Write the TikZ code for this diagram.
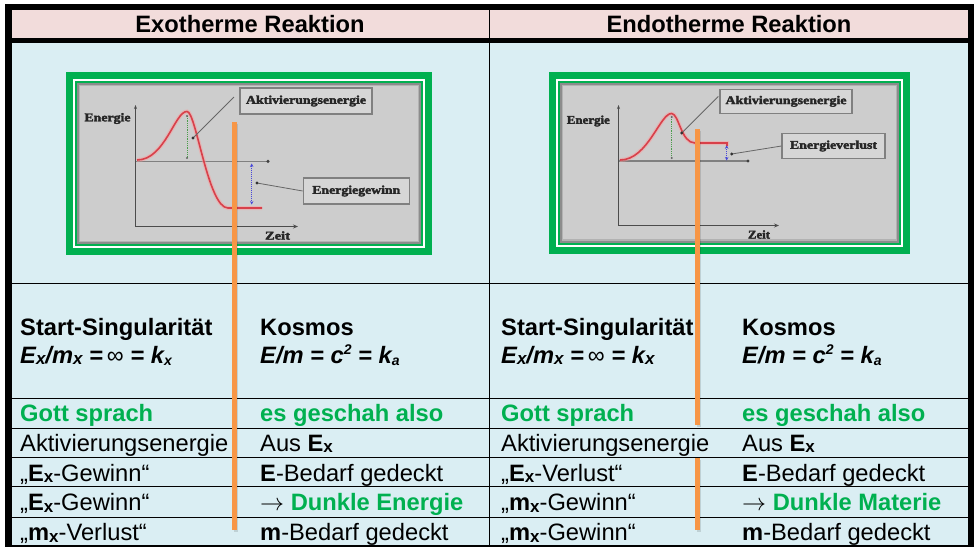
\documentclass[tikz,border=0pt]{standalone}
\usepackage{fontspec}
\setmainfont{Liberation Sans}
\newfontfamily\chartfont{Liberation Serif}[FakeBold=2.5]
\usepackage{graphicx}
\usetikzlibrary{arrows.meta}
\definecolor{hpink}{HTML}{F2DCDB}
\definecolor{lblue}{HTML}{DAEEF3}
\definecolor{xgreen}{HTML}{00B050}
\definecolor{xorange}{HTML}{F79646}
\definecolor{cgray}{HTML}{CDCDCD}
\definecolor{xred}{HTML}{D8404A}
\definecolor{xblue}{HTML}{4848D8}
\newcommand\subx[1]{\raisebox{-1.5pt}{\fontsize{17}{17}\selectfont #1}}
\newcommand\subsm[1]{\raisebox{-2.5pt}{\fontsize{14}{14}\selectfont #1}}
\newcommand\supsm[1]{\raisebox{9pt}{\fontsize{14}{14}\selectfont #1}}
\newcommand\ctext[2]{\resizebox{#1pt}{8.2pt}{\chartfont\bfseries #2}}
\newcommand\rarr{\resizebox{24pt}{!}{$\rightarrow$}}
\newcommand\gframe[4]{%
  \fill[xgreen] (#1,#2) rectangle (#3,#4);
  \fill[white] ({#1+7},{#2+7}) rectangle ({#3-7},{#4-7});
  \fill[xgreen] ({#1+8.7},{#2+8.7}) rectangle ({#3-8.7},{#4-8.7});
  \fill[cgray] ({#1+10.7},{#2+10.7}) rectangle ({#3-10.7},{#4-10.7});
  \draw[black!45,line width=2pt] ({#1+11.7},{#2+11.7}) rectangle ({#3-11.7},{#4-11.7});
  \draw[black!30,line width=1.5pt] ({#1+13.4},{#2+13.4}) rectangle ({#3-13.4},{#4-13.4});
}
\begin{document}
\begin{tikzpicture}[x=1pt,y=-1pt,
  txt/.style={anchor=base west,inner sep=0pt,font=\fontsize{23.7}{28}\selectfont},
  btxt/.style={txt,font=\fontsize{23.7}{28}\selectfont\bfseries},
  gtxt/.style={btxt,text=xgreen},
  ftxt/.style={txt,font=\fontsize{23.7}{28}\selectfont\bfseries\itshape},
  head/.style={anchor=base,inner sep=0pt,font=\fontsize{23.7}{28}\selectfont\bfseries},
  clab/.style={inner sep=0pt,text=black!85},
  cbox/.style={draw=black!50,line width=1.2pt,fill=black!16,inner sep=0pt,text=black!85},
  axisline/.style={draw=black!70,line width=1.2pt},
  refline/.style={draw=black!50,line width=1.3pt},
  redc/.style={draw=xred,line width=1.6pt},
  glowc/.style={draw=red!40!white,line width=4pt,opacity=.45},
  peakline/.style={draw=green!45!black!70,line width=0.8pt,densely dotted},
  leadline/.style={draw=black!60,line width=0.8pt},
  dimline/.style={draw=xblue,line width=1pt,densely dotted,{Stealth[length=3.5pt,width=3.5pt]}-{Stealth[length=3.5pt,width=3.5pt]}},
  orangeline/.style={draw=xorange,line width=4.5pt},
  oshadow/.style={draw=black,opacity=.12,line width=4.5pt}
]
\useasboundingbox (0,0) rectangle (974,547);
\fill[white] (0,0) rectangle (974,547);
% table background
\fill[hpink] (11.7,9.5) rectangle (968,37.7);
\fill[lblue] (11.7,43.3) rectangle (968,546);
\foreach \yy in {283.3,398.3,428.3,457.3,486.8,517} \draw[line width=1pt] (11.7,\yy) -- (968,\yy);
\draw[line width=1.5pt] (5,546) -- (973.5,546);
\fill[black] (5,4) rectangle (973.5,9.5);
\fill[black] (5,37.7) rectangle (973.5,43.3);
\fill[black] (5,4) rectangle (11.7,547);
\fill[black] (968,4) rectangle (973.5,547);
\draw[line width=1.5pt] (489.5,9.5) -- (489.5,546);

% headers
\node[head] (h1) at (250,32.3) {Exotherme Reaktion};
\node[head] (h2) at (729,32.3) {Endotherme Reaktion};

% ---------- left chart ----------
\gframe{66}{72}{432}{255}
\node[clab] (enL) at (107.5,118.5) {\ctext{46}{Energie}};
\node[clab] (zeitL) at (277.5,235.5) {\ctext{25}{Zeit}};
\coordinate (oL) at (135.5,226.5);
\coordinate (yL) at (135.5,105);
\coordinate (xL) at (298,226.5);
\draw[axisline,-{Stealth[length=4pt,width=3pt]}] (oL) -- (yL);
\draw[axisline,-{Stealth[length=5pt,width=4pt]}] (oL) -- (xL);
\coordinate (r0L) at (135.5,161.3);
\coordinate (r1L) at (268,161.3);
\draw[refline] (r0L) -- (r1L);
\fill[black!75] (r1L) circle (1.7pt);
\draw[glowc] (137,160) .. controls (165,160) and (175,111) .. (187,111.5) .. controls (196,111) and (208,208) .. (228,208) -- (262,208);
\draw[redc] (137,160) .. controls (165,160) and (175,111) .. (187,111.5) .. controls (196,111) and (208,208) .. (228,208) -- (262,208);
\coordinate (p0L) at (187,116);
\coordinate (p1L) at (187,158);
\draw[peakline] (p0L) -- (p1L);
\fill[black!60] (p0L) circle (1.2pt);
\fill[black!60] (p1L) circle (1.2pt);
\node[cbox,minimum width=132pt,minimum height=26pt] (aktL) at (306,101) {\ctext{120}{Aktivierungsenergie}};
\coordinate (la0L) at (234,97);
\coordinate (la1L) at (193,138);
\draw[leadline] (la0L) -- (la1L);
\fill[black!80] (la1L) circle (1.6pt);
\coordinate (b0L) at (251.7,163.5);
\coordinate (b1L) at (251.7,204.5);
\draw[dimline] (b0L) -- (b1L);
\node[cbox,minimum width=106pt,minimum height=26pt] (gewL) at (356.3,191) {\ctext{88}{Energiegewinn}};
\coordinate (lg1L) at (257,183);
\draw[leadline] (gewL.west) -- (lg1L);
\fill[black!80] (lg1L) circle (1.6pt);

% ---------- right chart ----------
\gframe{549}{72}{910}{253.5}
\node[clab] (enR) at (588.3,121) {\ctext{43}{Energie}};
\node[clab] (zeitR) at (759,234.5) {\ctext{22}{Zeit}};
\coordinate (oR) at (618.5,225.5);
\coordinate (yR) at (618.5,105);
\coordinate (xR) at (779,225.5);
\draw[axisline,-{Stealth[length=4pt,width=3pt]}] (oR) -- (yR);
\draw[axisline,-{Stealth[length=5pt,width=4pt]}] (oR) -- (xR);
\coordinate (r0R) at (618.5,161);
\coordinate (r1R) at (748,161);
\draw[refline] (r0R) -- (r1R);
\fill[black!75] (r1R) circle (1.7pt);
\draw[glowc] (620,160) .. controls (648,160) and (660,113) .. (671.7,113.5) .. controls (679,114) and (681,143) .. (695,143) -- (727,143) -- (727,146);
\draw[redc] (620,160) .. controls (648,160) and (660,113) .. (671.7,113.5) .. controls (679,114) and (681,143) .. (695,143) -- (727,143) -- (727,146);
\coordinate (p0R) at (671.7,117);
\coordinate (p1R) at (671.7,158);
\draw[peakline] (p0R) -- (p1R);
\fill[black!60] (p0R) circle (1.2pt);
\fill[black!60] (p1R) circle (1.2pt);
\node[cbox,minimum width=132pt,minimum height=24pt] (aktR) at (786,101.3) {\ctext{121}{Aktivierungsenergie}};
\coordinate (la0R) at (718.3,96.5);
\coordinate (la1R) at (681.7,133);
\draw[leadline] (la0R) -- (la1R);
\fill[black!80] (la1R) circle (1.6pt);
\coordinate (b0R) at (726.7,145.3);
\coordinate (b1R) at (726.7,160.5);
\draw[dimline] (b0R) -- (b1R);
\node[cbox,minimum width=103pt,minimum height=25pt] (verR) at (833.5,146) {\ctext{87}{Energieverlust}};
\coordinate (lv1R) at (731.7,154);
\draw[leadline] (verR.west) -- (lv1R);
\fill[black!80] (lv1R) circle (1.6pt);

% ---------- lower table, left half ----------
\node[btxt] (ssL) at (20,335.7) {Start-Singularität};
\node[btxt] (ksL) at (260,335.7) {Kosmos};
\node[ftxt] (fL) at (20,363.3) {E\subx{x}/m\subx{x} =\,{\mdseries\upshape ∞} = k\subsm{x}};
\node[ftxt] (fkL) at (260,363.3) {E/m = c\supsm{2} = k\subsm{a}};
\node[gtxt] (g1L) at (20,421.7) {Gott sprach};
\node[gtxt] (g2L) at (260,421.7) {es geschah also};
\node[txt] (t1L) at (20,451) {Aktivierungsenergie};
\node[txt] (u1L) at (260,451) {Aus \textbf{E\subx{x}}};
\node[txt] (t2L) at (20,481) {„\textbf{E\subx{x}}-Gewinn“};
\node[txt] (u2L) at (260,481) {\textbf{E}-Bedarf gedeckt};
\node[txt] (t3L) at (20,510.5) {„\textbf{E\subx{x}}-Gewinn“};
\node[txt] (u3L) at (260,510.5) {\rarr\ \textcolor{xgreen}{\textbf{Dunkle Energie}}};
\node[txt] (t4L) at (20,540.5) {„\textbf{m\subx{x}}-Verlust“};
\node[txt] (u4L) at (260,540.5) {\textbf{m}-Bedarf gedeckt};

% ---------- lower table, right half ----------
\node[btxt] (ssR) at (501,335.7) {Start-Singularität};
\node[btxt] (ksR) at (742,335.7) {Kosmos};
\node[ftxt] (fR) at (501,363.3) {E\subx{x}/m\subx{x} =\,{\mdseries\upshape ∞} = k\subx{x}};
\node[ftxt] (fkR) at (742,363.3) {E/m = c\supsm{2} = k\subsm{a}};
\node[gtxt] (g1R) at (501,421.7) {Gott sprach};
\node[gtxt] (g2R) at (742,421.7) {es geschah also};
\node[txt] (t1R) at (501,451) {Aktivierungsenergie};
\node[txt] (u1R) at (742,451) {Aus \textbf{E\subx{x}}};
\node[txt] (t2R) at (501,481) {„\textbf{E\subx{x}}-Verlust“};
\node[txt] (u2R) at (742,481) {\textbf{E}-Bedarf gedeckt};
\node[txt] (t3R) at (501,510.5) {„\textbf{m\subx{x}}-Gewinn“};
\node[txt] (u3R) at (742,510.5) {\rarr\ \textcolor{xgreen}{\textbf{Dunkle Materie}}};
\node[txt] (t4R) at (501,540.5) {„\textbf{m\subx{x}}-Gewinn“};
\node[txt] (u4R) at (742,540.5) {\textbf{m}-Bedarf gedeckt};

% ---------- orange lines ----------
\coordinate (o1a) at (234.5,122);
\coordinate (o1b) at (234.5,530);
\coordinate (o2a) at (697.5,129);
\coordinate (o2b) at (697.5,425);
\coordinate (o3a) at (697.5,458);
\coordinate (o3b) at (697.5,530);
\draw[oshadow] ([shift={(1.5pt,-1.5pt)}]o1a) -- ([shift={(1.5pt,-1.5pt)}]o1b);
\draw[oshadow] ([shift={(1.5pt,-1.5pt)}]o2a) -- ([shift={(1.5pt,-1.5pt)}]o2b);
\draw[oshadow] ([shift={(1.5pt,-1.5pt)}]o3a) -- ([shift={(1.5pt,-1.5pt)}]o3b);
\draw[orangeline] (o1a) -- (o1b);
\draw[orangeline] (o2a) -- (o2b);
\draw[orangeline] (o3a) -- (o3b);
\end{tikzpicture}
\end{document}
